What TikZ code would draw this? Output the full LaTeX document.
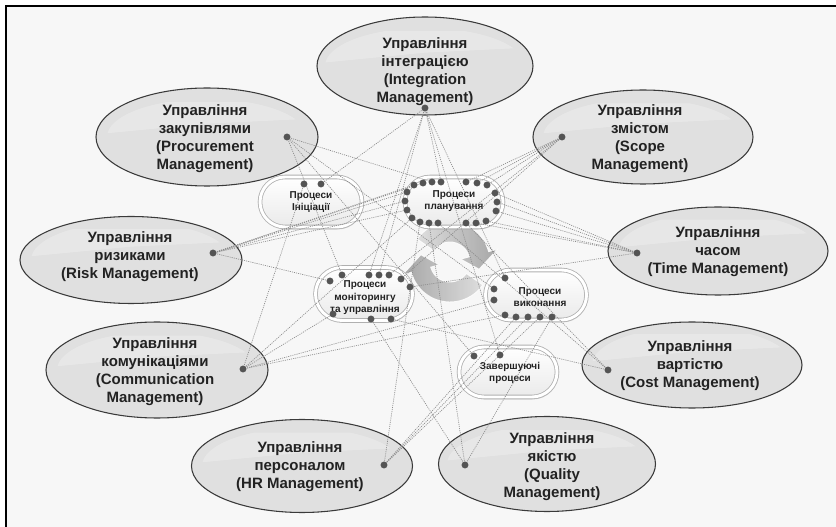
\documentclass[tikz,border=0pt]{standalone}
\usepackage{fontspec}
\setmainfont{Liberation Sans}
\usetikzlibrary{shapes.geometric,shapes.misc,shadows}

\definecolor{pagebg}{HTML}{F7F7F7}
\definecolor{ellFill}{HTML}{E0E0E0}
\definecolor{ellGlow}{HTML}{EBEBEB}
\definecolor{ellEdge}{HTML}{3A3A3A}
\definecolor{txt}{HTML}{222222}
\definecolor{pillEdge}{HTML}{B0B0B0}
\definecolor{pillBot}{HTML}{EAEAEA}
\definecolor{dotc}{HTML}{545454}
\definecolor{linkc}{HTML}{8C8C8C}
\definecolor{arrLight}{HTML}{DADADA}
\definecolor{arrDark}{HTML}{999999}

\begin{document}
\begin{tikzpicture}[x=0.75pt,y=-0.75pt,
  esize/.style 2 args={minimum width={#1*0.75pt}, minimum height={#2*0.75pt}},
  mgmt/.style={ellipse, draw=ellEdge, line width=0.8pt, inner sep=0pt,
    fill=ellFill},
  etext/.style={align=center, text=txt, inner sep=0pt,
    font=\fontsize{11.25}{13.5}\selectfont\bfseries},
  proc/.style={rounded rectangle, draw=pillEdge, line width=0.6pt,
    double=white, double distance=2.2pt,
    top color=white, bottom color=pillBot,
    drop shadow={opacity=0.28, shadow xshift=0.8pt, shadow yshift=-1.8pt},
    inner sep=0pt},
  ptext/.style={align=center, text=txt, inner sep=0pt,
    font=\fontsize{7.5}{9.4}\selectfont\bfseries},
  dotnode/.style={circle, fill=dotc, inner sep=0pt, minimum size=5.2pt},
  link/.style={draw=linkc, line width=0.5pt, dash pattern=on 0.8pt off 0.8pt},
  cycarrow/.style={draw=white, line width=0.7pt, opacity=0.85}]

\useasboundingbox (0,0) rectangle (836,527);
% page and frame
\fill[white] (0,0) rectangle (836,527);
\fill[pagebg] (6,6) rectangle (836,527);
\draw[black, line width=1.5pt] (6,527) -- (6,6) -- (836,6);

% knowledge areas
\node[mgmt, esize={216}{98}] (intg) at (425,66) {};
\node[mgmt, esize={222}{98}] (proc) at (207,137) {};
\node[mgmt, esize={220}{94}] (scop) at (643,137) {};
\node[mgmt, esize={220}{88}] (time) at (718,251) {};
\node[mgmt, esize={222}{87}] (risk) at (131,260) {};
\node[mgmt, esize={222}{96}] (comm) at (157,370) {};
\node[mgmt, esize={221}{93}] (hr)   at (302,466) {};
\node[mgmt, esize={217}{95}] (qual) at (547,464) {};
\node[mgmt, esize={220}{86}] (cost) at (692,365) {};

% soft light band across the upper part of each area
\foreach \e in {intg, proc, scop, time, risk, comm, hr, qual, cost} {
  \begin{scope}
    \clip (\e.center) ellipse [x radius=100, y radius=38];
    \fill[ellGlow, opacity=0.7] ([yshift=2pt]\e.west) -- ([yshift=10pt]\e.center)
      -- ([yshift=14pt]\e.east) -- (\e.north east) -- (\e.north west) -- cycle;
  \end{scope}
}

\node[etext] (intgT) at (425,72)  {Управління\\інтеграцією\\(Integration\\Management)};
\node[etext] (procT) at (205,139) {Управління\\закупівлями\\(Procurement\\Management)};
\node[etext] (scopT) at (640,139) {Управління\\змістом\\(Scope\\Management)};
\node[etext] (timeT) at (718,252) {Управління\\часом\\(Time Management)};
\node[etext] (riskT) at (130,257) {Управління\\ризиками\\(Risk Management)};
\node[etext] (commT) at (155,372) {Управління\\комунікаціями\\(Communication\\Management)};
\node[etext] (hrT)   at (300,467) {Управління\\персоналом\\(HR Management)};
\node[etext] (qualT) at (552,467) {Управління\\якістю\\(Quality\\Management)};
\node[etext] (costT) at (690,366) {Управління\\вартістю\\(Cost Management)};

% process cycle arrows
\begin{scope}[shift={(450,262)}]
  \path[cycarrow, left color=arrLight, right color=arrDark]
    (215:40) arc[start angle=215, end angle=345, radius=40]
    -- (345:49) -- (14:30) -- (345:11) -- (345:20)
    arc[start angle=345, end angle=215, radius=20] -- cycle;
  \path[cycarrow, right color=arrLight, left color=arrDark]
    (35:40) arc[start angle=35, end angle=165, radius=40]
    -- (165:49) -- (194:30) -- (165:11) -- (165:20)
    arc[start angle=165, end angle=35, radius=20] -- cycle;
\end{scope}

% process groups
\node[proc, minimum width=76.5pt, minimum height=37.5pt] (init) at (311,202) {};
\node[proc, minimum width=73.5pt, minimum height=37.5pt] (plan) at (454,202) {};
\node[proc, minimum width=72.75pt, minimum height=39.75pt] (moni) at (364,294) {};
\node[proc, minimum width=75.75pt, minimum height=37.5pt] (exec) at (536,295) {};
\node[proc, minimum width=73.5pt, minimum height=37.5pt] (clos) at (508,372) {};

\node[ptext] (initT) at (311,202) {Процеси\\Ініціації};
\node[ptext] (planT) at (454,201) {Процеси\\планування};
\node[ptext] (moniT) at (365,298) {Процеси\\моніторингу\\та управління};
\node[ptext] (execT) at (540,297) {Процеси\\виконання};
\node[ptext] (closT) at (510,373) {Завершуючі\\процеси};

% connection points of the knowledge areas
\foreach \n/\x/\y in {intgD/425/108, procD/287/137, scopD/562/137, timeD/637/253,
    riskD/213/253, commD/243/369, hrD/384/465, qualD/465/465, costD/608/370}
  \coordinate (\n) at (\x,\y);

% connection points of the process groups
\foreach \n/\x/\y in {i1/304/184, i2/321/184,
    p1/414/185, p2/423/183, p3/432/182, p4/441/182, p5/466/182, p6/477/183, p7/487/185,
    p8/495/193, p9/497/202, p10/496/211, p11/486/221, p12/476/223, p13/466/223,
    p14/438/223, p15/429/223, p16/420/222, p17/412/218, p18/407/210, p19/405/201, p20/407/192,
    m1/330/281, m2/342/275, m3/369/275, m4/379/275, m5/389/275, m6/401/279, m7/410/287,
    m8/391/319, m9/371/319, m10/333/314,
    x1/505/278, x2/494/289, x3/494/300, x4/505/315, x5/516/317, x6/528/317, x7/540/317, x8/552/317,
    c1/474/356, c2/500/355}
  \coordinate (\n) at (\x,\y);

% links between knowledge areas and processes
\foreach \a/\b in {intgD/i2, intgD/p4, intgD/m3, intgD/m4, intgD/x1, intgD/c2,
    procD/p3, procD/m2, procD/x2, procD/c1,
    scopD/p5, scopD/p6, scopD/p7, scopD/m5, scopD/m6,
    timeD/p8, timeD/p9, timeD/p10, timeD/p11, timeD/p12, timeD/m7,
    costD/p13, costD/p14, costD/m8,
    qualD/p15, qualD/m9, qualD/x8,
    hrD/p16, hrD/x5, hrD/x6, hrD/x7,
    commD/i1, commD/p17, commD/m10, commD/x3, commD/x4,
    riskD/p1, riskD/p2, riskD/p18, riskD/p19, riskD/p20, riskD/m1}
  \draw[link] (\a) -- (\b);

% dots on top of the links
\foreach \n in {intgD, procD, scopD, timeD, riskD, commD, hrD, qualD, costD,
    i1, i2, p1, p2, p3, p4, p5, p6, p7, p8, p9, p10, p11, p12, p13, p14, p15, p16, p17, p18, p19, p20,
    m1, m2, m3, m4, m5, m6, m7, m8, m9, m10, x1, x2, x3, x4, x5, x6, x7, x8, c1, c2}
  \node[dotnode] (\n dot) at (\n) {};
\end{tikzpicture}
\end{document}
